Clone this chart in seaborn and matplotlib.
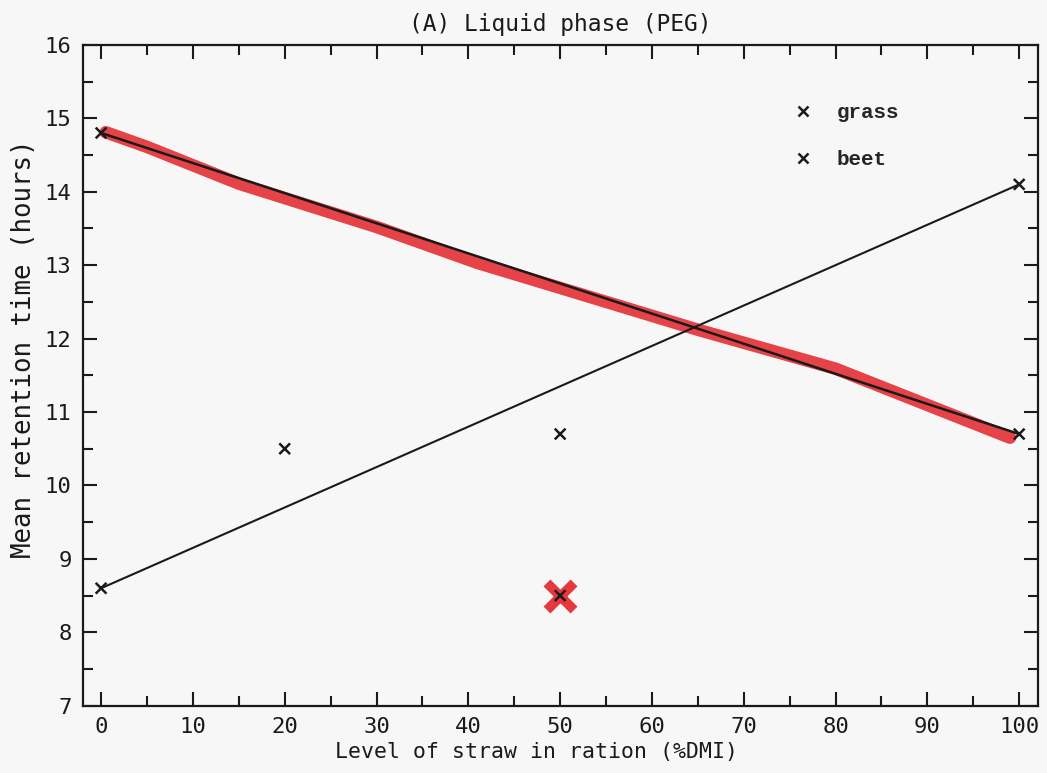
import matplotlib
matplotlib.use("Agg")
import matplotlib.pyplot as plt
import seaborn as sns
import pandas as pd
from matplotlib.ticker import MultipleLocator

grass_x = [0, 20, 50]
grass_y = [14.8, 10.5, 10.7]
beet_x = [0, 50, 100, 100]
beet_y = [8.6, 8.5, 14.1, 10.7]

# fitted lines (end points)
fit_grass_x = [0, 100]
fit_grass_y = [14.8, 10.7]
fit_beet_x = [0, 100]
fit_beet_y = [8.6, 14.1]

# red marker pen highlight
pen_x = [0.5, 5, 15, 30, 41, 50, 65, 80, 99]
pen_y = [14.84, 14.64, 14.14, 13.55, 13.06, 12.72, 12.15, 11.62, 10.68]
pen_pt_x = [50]
pen_pt_y = [8.5]

sns.set_style("ticks")
plt.rcParams["font.family"] = ["DejaVu Sans Mono", "DejaVu Sans"]

fig = plt.figure(figsize=(10.47, 7.73), dpi=100, facecolor="#f7f7f7")
ax = fig.add_axes([0.079, 0.087, 0.912, 0.855])
ax.set_facecolor("#f7f7f7")

# highlight first so black sits on top
ax.plot(pen_x, [y - 0.03 for y in pen_y], color="#e5393e", lw=9, alpha=0.95,
        solid_capstyle="round", zorder=1)
ax.scatter(pen_pt_x, pen_pt_y, marker="x", s=380, color="#e5393e",
           linewidths=7, zorder=1)

sns.lineplot(x=fit_grass_x, y=fit_grass_y, color="#1a1a1a", lw=1.8, ax=ax, zorder=2)
sns.lineplot(x=fit_beet_x, y=fit_beet_y, color="#1a1a1a", lw=1.5, ax=ax, zorder=2)

df = pd.DataFrame({
    "x": grass_x + beet_x,
    "y": grass_y + beet_y,
    "feed": ["grass"] * len(grass_x) + ["beet"] * len(beet_x),
})
sns.scatterplot(data=df, x="x", y="y", hue="feed", style="feed",
                markers={"grass": "x", "beet": "x"},
                palette={"grass": "#1a1a1a", "beet": "#1a1a1a"},
                s=60, linewidth=1.8, ax=ax, zorder=3, legend=True)

ax.set_xlim(-2, 102)
ax.set_ylim(7, 16)
ax.xaxis.set_major_locator(MultipleLocator(10))
ax.xaxis.set_minor_locator(MultipleLocator(5))
ax.yaxis.set_major_locator(MultipleLocator(1))
ax.yaxis.set_minor_locator(MultipleLocator(0.5))
ax.tick_params(which="both", direction="in", top=True, right=True,
               color="#1a1a1a", width=1.5, labelsize=16, labelcolor="#1a1a1a")
ax.tick_params(which="major", length=10, pad=8)
ax.tick_params(which="minor", length=7)
for s in ax.spines.values():
    s.set_linewidth(1.6)
    s.set_color("#1a1a1a")

ax.set_xlabel("Level of straw in ration (%DMI)", fontsize=15.5, color="#1a1a1a",
              labelpad=4, x=0.475)
ax.set_ylabel("Mean retention time (hours)", fontsize=18.5, color="#1a1a1a",
              labelpad=6, y=0.54)
ax.set_title("(A) Liquid phase (PEG)", fontsize=16.5, color="#1a1a1a", pad=10)

leg = ax.legend(loc="upper left", bbox_to_anchor=(0.713, 0.94), frameon=False,
                prop={"family": "Liberation Mono", "weight": "bold", "size": 15},
                handletextpad=0.6, labelspacing=1.35, markerscale=0.9)

fig.savefig("out.png", dpi=100, facecolor=fig.get_facecolor())
